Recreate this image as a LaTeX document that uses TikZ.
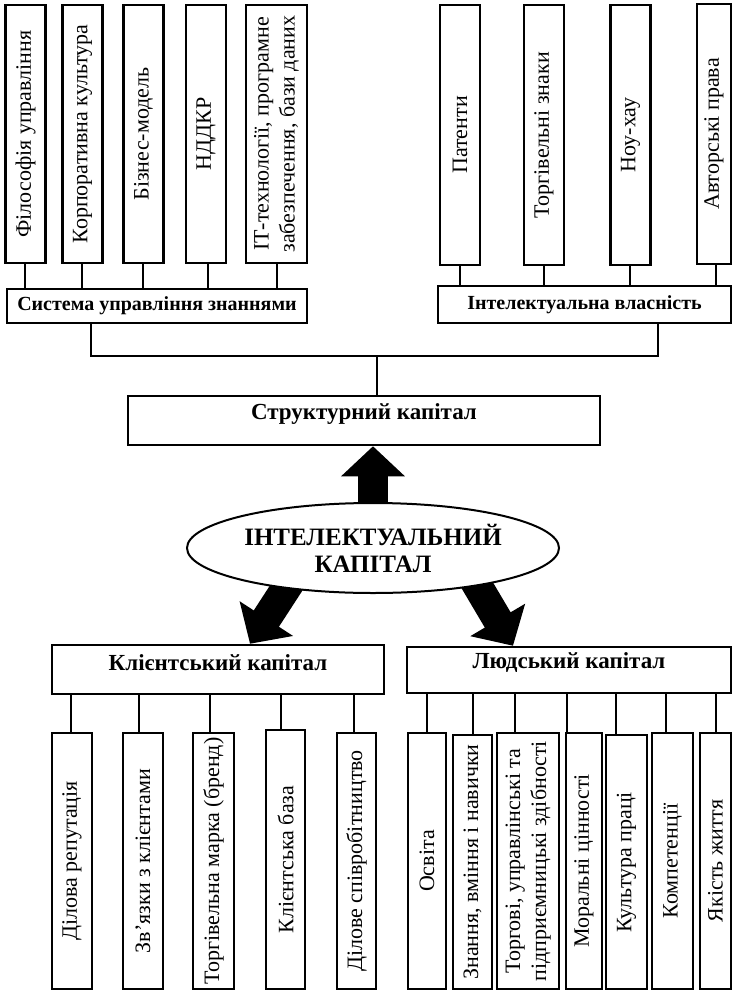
\documentclass[tikz,border=0pt]{standalone}
\usepackage{fontspec}
\setmainfont{Liberation Serif}
\usepackage{graphicx}
\usetikzlibrary{arrows.meta,shapes.geometric,backgrounds,calc}

\newcommand\boxfont{\fontsize{22}{26}\selectfont}
\newcommand\headfont{\fontsize{20}{24}\selectfont\bfseries}
\newcommand\bigheadfont{\fontsize{23}{27}\selectfont\bfseries}
\newcommand\capfont{\fontsize{25}{27}\selectfont\bfseries}
\newcommand\vt[1]{\rotatebox{90}{#1}}
\newcommand\vtt[2]{\rotatebox{90}{\begin{tabular}{@{}c@{}}#1\\#2\end{tabular}}}
\newcommand\up[1]{\raisebox{7pt}[\height][\depth]{#1}}

\tikzset{
  vbox/.style={draw, line width=2.5pt, minimum width=40pt, minimum height=258pt, inner sep=0pt, font=\boxfont},
  hbox/.style={draw, line width=2.5pt, inner sep=0pt, font=\headfont},
  bighbox/.style={hbox, font=\bigheadfont},
  link/.style={line width=2.5pt},
  bigarrow/.style={line width=30pt, -{Triangle[length=30pt,width=62pt]}}
}

\begin{document}
\begin{tikzpicture}[x=1pt,y=-1pt]
    \useasboundingbox (0,0) rectangle (732,991);
    % Top left
    \node[vbox] (phil) at (25.5,134) {\vt{Філософія управління}};
    \node[vbox] (corp) at (82.5,134) {\vt{Корпоративна культура}};
    \node[vbox] (bmod) at (143.5,134) {\vt{Бізнес-модель}};
    \node[vbox] (rnd) at (206,134) {\vt{НДДКР}};
    \node[vbox, minimum width=61pt] (itec) at (276.5,134) {\vtt{ІТ-технології, програмне}{забезпечення, бази даних}};
    \node[hbox, minimum width=300pt, minimum height=34pt] (sys) at (157,306) {Система управління знаннями};
    \foreach \n/\x in {phil/25, corp/82, bmod/143, rnd/208, itec/277}
        \draw[link] (\n.south -| \x,0) -- (sys.north -| \x,0);
    % Top right
    \node[vbox, minimum height=260pt] (pat) at (460,135) {\vt{Патенти}};
    \node[vbox, minimum height=260pt] (tmk) at (544,135) {\vt{Торгівельні знаки}};
    \node[vbox, minimum height=260pt] (knh) at (630.5,135) {\vt{Ноу-хау}};
    \node[vbox, minimum height=260pt, minimum width=34pt] (auth) at (714,134) {\vt{Авторські права}};
    \node[hbox, minimum width=293pt, minimum height=37pt] (ip) at (584.5,304.5) {Інтелектуальна власність};
    \foreach \n/\x in {pat/460, tmk/544, knh/630, auth/716}
        \draw[link] (\n.south -| \x,0) -- (ip.north -| \x,0);
    % Structural capital
    \coordinate (bus) at (377,356);
    \node[bighbox, minimum width=472pt, minimum height=49pt] (struct) at (364,420.5) {\up{Структурний капітал}};
    \draw[link] (sys.south -| 91,0) |- (bus) -| (ip.south -| 658,0);
    \draw[link] (bus) -- (struct.north -| bus);
    % Centre
    \node[draw, ellipse, line width=2pt, fill=white, minimum width=372pt, minimum height=90pt,
          inner sep=0pt, align=center, font=\capfont] (ic) at (373,548) {ІНТЕЛЕКТУАЛЬНИЙ\\КАПІТАЛ};
    \node[bighbox, minimum width=332pt, minimum height=49pt] (client) at (218,669.5) {\up{Клієнтський капітал}};
    \node[bighbox, minimum width=324pt, minimum height=46pt] (human) at (569,670) {\up{Людський капітал}};
    \coordinate (tipL) at (client.north -| 250,0);
    \coordinate (tipR) at (human.north -| 513,0);
    \begin{scope}[on background layer]
        \draw[bigarrow] (ic.center) -- (struct.south -| ic.center);
        \draw[bigarrow] ($(ic.205)!-12pt!(tipL)$) -- (tipL);
        \draw[bigarrow] ($(ic.340)!-12pt!(tipR)$) -- (tipR);
    \end{scope}
    % Bottom left
    \node[vbox, minimum height=256pt] (rep) at (72,861) {\vt{Ділова репутація}};
    \node[vbox, minimum height=256pt] (rel) at (143,861) {\vt{Зв’язки з клієнтами}};
    \node[vbox, minimum height=256pt, minimum width=41pt] (brand) at (213.5,861) {\vt{Торгівельна марка (бренд)}};
    \node[vbox, minimum height=259pt, minimum width=39pt] (cbase) at (285.5,859.5) {\vt{Клієнтська база}};
    \node[vbox, minimum height=256pt, minimum width=39pt] (coop) at (356.5,861) {\vt{Ділове співробітництво}};
    \foreach \n/\x in {rep/71, rel/139, brand/210, cbase/281, coop/354}
        \draw[link] (\n.north -| \x,0) -- (client.south -| \x,0);
    % Bottom right
    \node[vbox, minimum height=256pt, minimum width=38pt] (edu) at (427,861) {\vt{Освіта}};
    \node[vbox, minimum height=254pt, minimum width=39pt] (skill) at (472.5,862) {\vt{Знання, вміння і навички}};
    \node[vbox, minimum height=256pt, minimum width=62pt] (abil) at (528,861) {\vtt{Торгові, управлінські та}{підприємницькі здібності}};
    \node[vbox, minimum height=256pt, minimum width=36pt] (moral) at (584,861) {\vt{Моральні цінності}};
    \node[vbox, minimum height=254pt, minimum width=41pt] (wcult) at (626.5,862) {\vt{Культура праці}};
    \node[vbox, minimum height=256pt, minimum width=41pt] (comp) at (672.5,861) {\vt{Компетенції}};
    \node[vbox, minimum height=256pt, minimum width=31pt] (life) at (715.5,861) {\vt{Якість життя}};
    \foreach \n/\x in {edu/427, skill/473, abil/515, moral/567, wcult/616, comp/666, life/716}
        \draw[link] (\n.north -| \x,0) -- (human.south -| \x,0);
\end{tikzpicture}
\end{document}
